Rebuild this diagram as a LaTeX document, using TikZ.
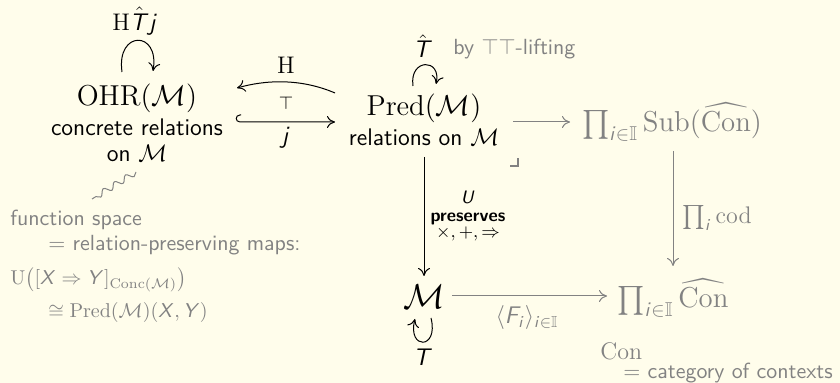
\RequirePackage{fix-cm}
\documentclass[tikz,border=0pt]{standalone}
\usepackage{amsmath,amssymb}
\usetikzlibrary{arrows.meta,decorations.pathmorphing}
\renewcommand{\familydefault}{\sfdefault}
\DeclareMathAlphabet{\mathsfit}{OT1}{cmss}{m}{sl}
\definecolor{bg}{RGB}{255,253,235}
\definecolor{dim}{RGB}{130,130,130}
\newcommand{\fs}[1]{\fontsize{#1}{#1}\selectfont}
\newcommand{\sv}[1]{\mathsfit{#1}}
\begin{document}
\begin{tikzpicture}[x=0.5pt,y=-0.5pt,
  >={To[length=4pt,width=6pt]},
  lbl/.style={inner sep=0pt},
  dimt/.style={text=dim},
  dimline/.style={draw=dim, line width=0.5pt},
  blkline/.style={draw=black, line width=0.5pt}]
\fill[bg] (0,0) rectangle (840,383);
\useasboundingbox (0,0) rectangle (840,383);
% left block
\node[lbl,font=\fs{12}] (htj) at (135,21) {$\mathrm{H}\hat{\sv{T}}\sv{j}$};
\node[lbl,font=\fs{14.4}] (ohr) at (137,98) {$\mathrm{OHR}(\mathcal{M})$};
\node[lbl,font=\fs{12}] (conc) at (137,127) {concrete relations};
\node[lbl,font=\fs{12}] (onm) at (137,153) {on $\mathcal{M}$};
% middle top
\node[lbl,font=\fs{12}] (that) at (423,46) {$\hat{\sv{T}}$};
\node[lbl,font=\fs{10.95},dimt,anchor=west] (tt) at (453,49) {by $\top\top$-lifting};
\node[lbl,font=\fs{14.4}] (pred) at (424,108) {$\mathrm{Pred}(\mathcal{M})$};
\node[lbl,font=\fs{12}] (relm) at (424,137) {relations on $\mathcal{M}$};
% right top
\node[lbl,font=\fs{14.4},dimt] (sub) at (672,122) {$\textstyle\prod_{\sv{i}\in\mathbb{I}}\mathrm{Sub}(\widehat{\mathrm{Con}})$};
% adjunction labels
\node[lbl,font=\fs{12}] (hl) at (286,65) {$\mathrm{H}$};
\node[lbl,font=\fs{9}] (topl) at (286,103) {$\top$};
\node[lbl,font=\fs{12}] (jl) at (286,138) {$\sv{j}$};
% bottom
\node[lbl,font=\fs{17.28}] (m) at (424,297) {$\mathcal{M}$};
\node[lbl,font=\fs{12}] (tl) at (423,357) {$\sv{T}$};
\node[lbl,font=\fs{14.4},dimt] (mprod) at (673,298) {$\textstyle\prod_{\sv{i}\in\mathbb{I}}\widehat{\mathrm{Con}}$};
\node[lbl,font=\fs{12},dimt] (fl) at (527,318) {$\langle \sv{F}_{\sv{i}}\rangle_{\sv{i}\in\mathbb{I}}$};
\node[lbl,font=\fs{12},dimt] (cod) at (717,218) {$\textstyle\prod_{\sv{i}}\mathrm{cod}$};
\node[lbl,font=\fs{9},align=center] (pres) at (468,216) {$\sv{U}$\\ \textbf{preserves}\\[-1pt] $\times,+,\Rightarrow$};
\node[lbl,font=\fs{12},dimt,anchor=west] (con) at (600,351) {$\mathrm{Con}$};
\node[lbl,font=\fs{10.95},dimt,anchor=west] (cat) at (623,373) {$=$ category of contexts};
% left lower texts
\node[lbl,font=\fs{10.95},dimt,anchor=west] (fsp) at (10,220) {function space};
\node[lbl,font=\fs{10.95},dimt,anchor=west] (rpm) at (48,245) {$=$ relation-preserving maps:};
\node[lbl,font=\fs{10},dimt,anchor=west] (uxy) at (10,280) {$\mathrm{U}\bigl([\sv{X}\Rightarrow \sv{Y}]_{\mathrm{Conc}(\mathcal{M})}\bigr)$};
\node[lbl,font=\fs{10},dimt,anchor=west] (iso) at (48,313) {$\cong\mathrm{Pred}(\mathcal{M})(\sv{X},\sv{Y})$};
% coordinates
\coordinate (la) at (122,72); \coordinate (lb) at (153,71);
\coordinate (pa) at (413,86); \coordinate (pb) at (436,84);
\coordinate (ma) at (431,318); \coordinate (mb) at (415,319);
\coordinate (h1) at (335,93); \coordinate (h2) at (237,88);
\coordinate (j1) at (240,122); \coordinate (j2) at (335,122);
\coordinate (s1) at (513,122); \coordinate (s2) at (570,122);
\coordinate (v1) at (424,157); \coordinate (v2) at (424,276);
\coordinate (w1) at (673,151); \coordinate (w2) at (673,266);
\coordinate (b1) at (452,296); \coordinate (b2) at (607,296);
\coordinate (z1) at (136,172); \coordinate (z2) at (92,199);
% connectors
\draw[blkline,->] (la) .. controls (116,30) and (160,30) .. (lb);
\draw[blkline,->] (pa) .. controls (409,58) and (442,58) .. (pb);
\draw[blkline,->] (ma) .. controls (439,350) and (407,350) .. (mb);
\draw[blkline,->] (h1) .. controls (300,78) and (265,80) .. (h2);
\draw[blkline,->] (241,115) -- (240,115) .. controls (235,115) and (235,122) .. (j1) -- (j2);
\draw[dimline,->] (s1) -- (s2);
\draw[blkline,->] (v1) -- (v2);
\draw[dimline,->] (w1) -- (w2);
\draw[dimline,->] (b1) -- (b2);
\draw[dimline,decorate,decoration={snake,amplitude=1.5pt,segment length=6.5pt}] (z1) -- (z2);
\draw[dim,line width=1pt] (510,166) -- (518,166) -- (518,158);
\end{tikzpicture}
\end{document}
